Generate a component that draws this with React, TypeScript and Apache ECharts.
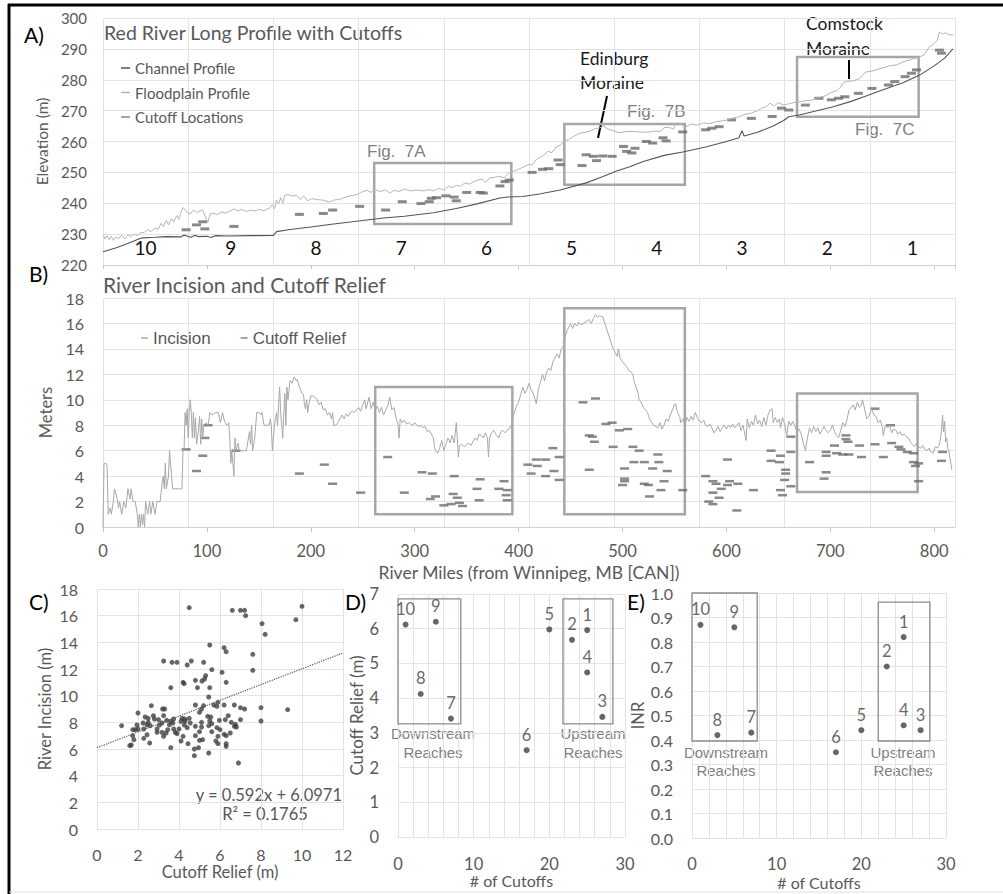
import React, { useEffect, useRef } from "react";
import * as echarts from "echarts";

// ---------- DATA ----------
const reachLabels = ["10", "9", "8", "7", "6", "5", "4", "3", "2", "1"];

// Panel A: [river mile, elevation m]
const channelProfile: [number, number][] = [
  [0, 224.3], [5, 224.8], [12, 225.5], [20, 226.5], [28, 227.5], [35, 228.5], [38, 228.8], [50, 229], [60, 229.2],
  [75, 229.1], [78, 229.7], [82, 229.2], [85, 229.0], [88, 229.6], [92, 229.2], [100, 229.3], [104, 228.9], [108, 229.5],
  [120, 229.4], [140, 229.5], [164, 229.6], [167, 230.8], [180, 231.5], [200, 232.3], [220, 233.2], [240, 234],
  [254, 234.6], [270, 235.2], [290, 235.8], [318, 236.9], [340, 238.3], [360, 239.8], [382, 241.7], [390, 242],
  [404, 242.2], [420, 243], [440, 244.3], [465, 246.6], [480, 248.5], [495, 250.5], [507, 251.8], [520, 253.5],
  [540, 255.5], [558, 256.6], [580, 258.2], [600, 260], [612, 261.2], [615, 263.5], [617, 261.8], [630, 263],
  [645, 265], [655, 266.8], [660, 268], [670, 268.6], [685, 269.8], [702, 271.2], [720, 273], [735, 274.8],
  [750, 276.7], [770, 279], [786, 281.5], [800, 284.5], [810, 287], [818, 290]
];

const floodplainProfile: [number, number][] = [
  [0, 229.8], [2, 228.5], [4, 229.5], [6, 228.2], [8, 229.3], [10, 228.0], [12, 229.0], [15, 228.6], [18, 229.6],
  [21, 228.4], [24, 229.8], [27, 229.2], [30, 230], [33, 229.5], [36, 230.4], [40, 230.6], [43, 231.5], [46, 230.8],
  [50, 232], [53, 231.5], [56, 233.5], [58, 232.4], [61, 234.5], [63, 233], [66, 235], [68, 234], [71, 236],
  [73, 234.8], [75, 237], [77, 238.6], [79, 238], [81, 237], [84, 236.5], [87, 237.8], [90, 237], [93, 237.4],
  [96, 237.8], [99, 235.2], [101, 233.8], [103, 236.5], [106, 236.8], [110, 236.3], [114, 237.2], [118, 236.8],
  [122, 237.5], [126, 238.2], [130, 237.5], [134, 238], [138, 237.3], [142, 237.8], [146, 237.5], [150, 238],
  [155, 237.6], [160, 238.4], [163, 239.5], [165, 238.2], [167, 241], [169, 239.8], [171, 241.8], [173, 240],
  [175, 242.6], [178, 242.8], [182, 242.3], [186, 242.6], [190, 241.2], [193, 242.4], [197, 240.8], [201, 241.5],
  [206, 241.2], [212, 241], [218, 240.4], [222, 241], [228, 241.3], [234, 242], [240, 242.5], [246, 243],
  [250, 243.8], [254, 244.2], [258, 243.5], [262, 244.5], [266, 243.8], [272, 244.3], [276, 243.3], [280, 244.2],
  [285, 243.8], [290, 244.6], [296, 244.0], [302, 244.3], [308, 244.0], [314, 244.4], [318, 244.0], [323, 244.8],
  [328, 244.3], [333, 245.6], [336, 245], [340, 245.8], [344, 245.5], [348, 246.5], [353, 246.2], [358, 247.2],
  [362, 247.6], [365, 247.8], [368, 246.6], [372, 248.2], [377, 248.4], [382, 248.7], [386, 248.2], [390, 249.7],
  [395, 250.4], [400, 251], [405, 251.8], [410, 252.6], [413, 252.4], [417, 254.2], [420, 254.8], [424, 255.5],
  [428, 256.8], [432, 256.4], [436, 258.2], [440, 258.8], [444, 260.2], [448, 260.6], [452, 261.5], [456, 262.2],
  [460, 262.8], [465, 263], [470, 263.6], [474, 264.2], [478, 264.4], [482, 265], [485, 264.2], [490, 263.6],
  [497, 262.8], [503, 263.2], [510, 263.3], [518, 263], [526, 263.1], [532, 263.4], [536, 263.2], [540, 264.5],
  [545, 264.6], [549, 264], [552, 266], [556, 265.8], [560, 264.6], [566, 265.6], [572, 265.3], [578, 266],
  [584, 265.8], [590, 266.4], [596, 266.7], [602, 267], [606, 267.6], [612, 268], [618, 268.8], [624, 269.2],
  [630, 270], [634, 270.8], [638, 271.2], [642, 272.4], [646, 271.5], [650, 272.6], [655, 271.8], [660, 272.2],
  [665, 272.6], [670, 272.8], [676, 273.2], [682, 273.4], [688, 274.2], [694, 274.6], [700, 275.8], [706, 276.4],
  [710, 277.6], [712, 278.9], [716, 279.5], [722, 279.6], [728, 280.4], [734, 282.5], [740, 282.8], [746, 283.4],
  [752, 284], [758, 284.6], [764, 284.8], [770, 285.8], [776, 286.4], [782, 287], [786, 287.4], [790, 288],
  [795, 290.5], [800, 291.8], [803, 292.8], [805, 295.5], [808, 294.8], [811, 295.2], [814, 294.6], [818, 294.5]
];

const cutoffLocations: [number, number][] = [
  [80, 231.4], [90, 233], [96, 234], [98, 231.7], [126, 232.5], [189, 236.4], [212, 236.7], [221, 237.8],
  [247, 239], [272, 237.8], [288, 240.5], [306, 239.9], [314, 240.5], [316, 241.6], [321, 241.8], [330, 242.4],
  [338, 242.0], [340, 240.8], [350, 243.5], [363, 243.5], [366, 243.3], [382, 245.6], [387, 247], [391, 247.5],
  [413, 250], [423, 251], [429, 251.2], [438, 254], [440, 252.5], [461, 252.2], [465, 255.7], [472, 255.2],
  [475, 253.8], [481, 255.3], [490, 255.2], [501, 258.4], [504, 256.8], [509, 256.3], [512, 257.8], [523, 260],
  [529, 259.5], [539, 261.2], [542, 260.2], [558, 263.1], [580, 263.8], [586, 264.3], [593, 264.8], [605, 267],
  [624, 267.5], [644, 268.1], [653, 270.8], [660, 270.2], [676, 271.8], [689, 274], [701, 273.5], [708, 274],
  [714, 274.5], [727, 275.6], [740, 277.2], [756, 278.3], [762, 279.4], [772, 281], [778, 282.1], [783, 283.2],
  [805, 289.6], [807, 288.6]
];

const figBoxesA: [number, number, number, number][] = [
  [261, 233.3, 393, 253], [444, 246, 560, 265.7], [668, 268, 785, 287.4]
];

// Panel B: [river mile, meters]
const incision: [number, number][] = [
  [0, 0], [1, 5], [3, 5], [4, 4.8], [5, 1], [7, 1.5], [8, 1], [10, 2], [11, 3], [13, 2.5], [15, 1.5], [16, 2],
  [18, 1], [20, 2], [22, 1.5], [24, 3], [26, 2.2], [27, 3], [29, 2], [31, 2], [33, 1], [34, 0], [35, 1], [36, 0],
  [37, 1], [38, 0.2], [39, 1], [40, 0], [41, 2], [43, 1], [45, 2], [46, 1], [48, 2], [50, 1], [52, 2], [55, 2],
  [57, 3.5], [58, 4], [59, 3], [60, 5], [61, 3], [63, 4], [64, 6], [65, 5], [66, 4], [67, 3], [70, 3], [74, 3],
  [76, 3], [77, 6], [78, 6], [79, 9], [80, 8], [81, 9.3], [82, 7], [83, 9], [84, 10], [85, 9], [86, 7], [87, 9],
  [88, 7], [89, 8.6], [90, 6.5], [91, 7], [93, 8.7], [94, 6.5], [95, 8.5], [96, 7], [97, 8], [99, 8.2], [101, 8],
  [103, 9], [105, 8.8], [108, 9], [111, 9], [113, 8.2], [115, 9], [117, 8.3], [119, 8], [121, 8.2], [122, 7],
  [123, 5], [124, 6], [125, 5], [126, 4], [127, 7], [128, 6], [130, 6.6], [131, 6], [135, 6], [138, 6], [140, 7],
  [141, 7.5], [142, 6.5], [143, 8], [144, 6], [146, 7], [148, 9], [150, 9], [152, 8.8], [153, 9], [155, 8],
  [157, 8], [160, 8], [161, 8.5], [162, 8], [163, 6], [165, 8], [167, 9], [168, 8], [170, 11], [171, 9], [172, 8],
  [173, 7], [174, 9], [175, 10.5], [176, 8], [177, 11], [178, 10], [180, 11.5], [182, 11.3], [184, 11.8],
  [186, 11.5], [187, 11.6], [189, 11], [191, 10.6], [193, 10.4], [194, 9.5], [195, 9.3], [196, 10], [197, 9],
  [198, 9.6], [200, 10.3], [202, 10.3], [204, 10.2], [206, 10], [208, 9.6], [210, 9.8], [212, 9.2], [214, 9.3],
  [216, 8.8], [218, 9], [220, 8.5], [221, 9], [222, 8], [224, 8], [226, 8.2], [228, 8.5], [230, 8.8], [232, 8.5],
  [234, 8.9], [236, 8.7], [238, 9], [240, 9.1], [242, 9], [244, 9.2], [246, 9.4], [248, 9.1], [250, 9.6],
  [252, 10], [253, 9.3], [254, 9.5], [256, 10.2], [258, 9.3], [260, 9.8], [262, 9.2], [264, 9.5], [266, 9],
  [268, 9.4], [270, 8.8], [272, 9.2], [274, 9.5], [276, 10.2], [278, 9.2], [280, 9.4], [282, 8.6], [284, 8],
  [285, 7], [286, 8.5], [288, 8.2], [290, 8.4], [292, 8.1], [294, 8.2], [296, 8.1], [298, 8], [300, 8.2],
  [302, 8], [304, 7.9], [306, 8], [308, 7.8], [310, 7.9], [312, 7.5], [314, 7.6], [316, 7.3], [318, 7],
  [319, 6.3], [320, 6], [322, 5.8], [324, 6.2], [326, 6.8], [328, 6], [330, 6.5], [332, 7], [334, 6.6],
  [336, 7.2], [338, 6.6], [340, 8.2], [341, 7], [342, 5.5], [343, 6.4], [345, 6.5], [348, 6.3], [350, 6.5],
  [352, 6.6], [354, 6.4], [356, 6.7], [358, 7], [360, 6.8], [362, 7.3], [364, 7.2], [366, 7], [368, 7.4],
  [370, 7], [371, 5.5], [372, 7], [374, 7.4], [376, 7.6], [378, 7.3], [381, 7], [383, 7.5], [385, 7.6],
  [387, 7.4], [389, 7.6], [391, 7.7], [393, 8], [395, 8.8], [396, 9], [398, 9.5], [400, 9.8], [402, 10.4],
  [404, 11], [406, 10.5], [408, 10.8], [410, 11.3], [412, 10.8], [414, 10.5], [416, 10], [417, 9.7], [419, 10.8],
  [421, 11.4], [423, 12], [425, 11.5], [427, 12.2], [429, 12.5], [431, 12.3], [433, 13], [435, 13.3], [437, 13.6],
  [439, 13.3], [441, 14], [443, 14.2], [445, 15], [447, 15.5], [449, 15.8], [450, 16], [452, 15.6], [454, 16],
  [456, 15.8], [458, 16.1], [460, 15.9], [462, 16], [464, 16.1], [466, 16.2], [468, 16.3], [470, 16],
  [472, 16.4], [474, 16.7], [476, 16.5], [478, 16.6], [481, 16.5], [483, 16], [485, 15.5], [487, 15],
  [489, 14.5], [491, 14], [493, 13.7], [495, 13.4], [496, 14], [498, 13.2], [500, 13], [502, 12.8], [504, 12.6],
  [506, 12.3], [508, 12.2], [510, 12], [511, 11.5], [513, 11], [515, 10.5], [516, 10], [518, 9.8], [520, 9.4],
  [522, 9.2], [524, 9], [526, 8.5], [528, 8.2], [530, 8], [532, 7.9], [534, 7.8], [536, 8.2], [538, 7.7],
  [540, 8], [542, 8.5], [544, 8.3], [546, 8.8], [548, 9.2], [550, 9.6], [551, 9.7], [553, 9], [555, 8.7],
  [556, 8.2], [558, 8.5], [560, 8], [562, 8.6], [564, 8.3], [566, 8.7], [568, 8.4], [570, 9], [572, 8.6],
  [574, 8.3], [576, 8.2], [578, 8.4], [580, 8], [582, 7.9], [584, 8.1], [586, 7.8], [588, 7.4], [590, 7.6],
  [592, 7.9], [594, 7.5], [596, 7.8], [598, 8], [600, 7.7], [602, 8], [604, 7.8], [606, 8.1], [608, 7.8],
  [610, 8], [612, 8.2], [614, 7.6], [616, 8], [618, 7.2], [619, 6.8], [620, 8.5], [622, 7.8], [624, 8.3],
  [626, 8], [628, 8.8], [630, 8.1], [632, 8.4], [634, 7.9], [636, 8.6], [638, 8], [640, 8.8], [642, 9.2],
  [644, 9.3], [645, 8.2], [647, 8.6], [649, 8.2], [651, 8.5], [652, 7.8], [654, 8.6], [656, 8.1], [658, 7.2],
  [660, 8.3], [662, 8], [664, 8.3], [666, 7.9], [668, 7.5], [670, 7.7], [672, 7.3], [674, 6.6], [676, 6],
  [678, 7], [680, 7.8], [682, 7.4], [684, 7.9], [686, 7.5], [688, 7.8], [690, 7.3], [692, 7.6], [694, 7.9],
  [696, 7.6], [698, 7.4], [700, 7.6], [702, 8], [704, 7.5], [706, 7.2], [708, 7], [710, 7.6], [712, 8.2],
  [714, 7.9], [716, 8.4], [718, 9.2], [720, 9.4], [722, 9.6], [724, 9.2], [726, 9.8], [728, 9.4], [730, 9.6],
  [731, 10], [733, 9.3], [735, 8.5], [737, 8.7], [740, 9.3], [742, 8.8], [744, 8.7], [746, 8.2], [748, 8.4],
  [750, 7.9], [751, 7.2], [753, 8], [755, 7.8], [757, 8], [759, 7.4], [761, 7.7], [763, 7.6], [765, 7.3],
  [767, 7.5], [769, 7.2], [771, 7.3], [773, 7.1], [775, 7], [777, 6.7], [779, 6.5], [781, 6.3], [783, 6.6],
  [785, 6.3], [787, 6.2], [789, 6.4], [791, 6.1], [793, 6], [795, 6.2], [797, 5.9], [799, 5.8], [801, 6.3],
  [803, 6.2], [805, 6.5], [807, 7.5], [808, 8.8], [809, 7.5], [810, 8.3], [811, 6.7], [812, 7], [813, 6.2],
  [814, 6], [815, 5.5], [817, 4.5]
];

const cutoffRelief: [number, number][] = [
  [80, 6.1], [90, 4.4], [96, 5.6], [98, 7.0], [101, 8.0], [128, 6.0], [189, 4.2], [213, 4.9], [221, 3.4],
  [248, 2.7], [274, 5.5], [290, 2.7], [307, 4.3], [317, 4.2], [315, 2.2], [320, 2.4], [328, 1.7], [335, 1.8],
  [337, 2.6], [338, 4.0], [341, 2.3], [343, 1.9], [346, 1.65], [362, 2.1], [360, 3.0], [363, 3.75], [381, 3.0],
  [386, 3.6], [389, 2.9], [388, 2.5], [389, 2.1], [409, 4.9], [417, 5.3], [426, 5.3], [412, 4.2], [418, 4.8],
  [433, 6.2], [434, 4.4], [426, 4.0], [439, 5.5], [439, 3.7], [462, 9.8], [474, 10.1], [484, 8.1], [490, 8.2],
  [468, 7.2], [471, 7.1], [473, 6.7], [491, 6.3], [468, 4.5], [497, 7.6], [505, 7.7], [510, 6.3], [516, 6.0],
  [511, 5.1], [521, 5.1], [534, 5.7], [535, 5.1], [529, 4.6], [543, 4.4], [502, 4.6], [502, 3.8], [502, 3.6],
  [500, 3.3], [521, 3.4], [525, 3.3], [540, 3.6], [537, 2.9], [526, 2.4], [558, 2.9], [580, 4.0], [587, 3.6],
  [590, 3.4], [601, 5.3], [603, 3.6], [601, 3.3], [595, 3.0], [587, 2.7], [593, 2.3], [583, 2.0], [587, 1.8],
  [611, 3.4], [610, 1.3], [626, 2.9], [643, 6.0], [652, 5.6], [662, 5.9], [662, 7.1], [643, 5.2], [651, 5.1],
  [657, 4.5], [657, 4.2], [656, 3.7], [652, 2.9], [654, 2.5], [662, 3.2], [680, 5.1], [696, 5.9], [696, 5.6],
  [704, 6.4], [706, 5.8], [712, 5.7], [715, 7.2], [715, 6.9], [717, 6.7], [718, 5.7], [728, 6.4], [730, 5.5],
  [743, 9.3], [743, 6.5], [751, 5.5], [758, 8.0], [759, 6.6], [766, 6.3], [768, 6.1], [774, 5.9], [780, 5.8],
  [780, 5.1], [782, 4.8], [785, 5.0], [785, 3.6], [696, 4.3], [694, 3.8], [808, 5.9], [807, 5.2]
];

const figBoxesB: [number, number, number, number][] = [
  [262, 1.0, 394, 11.0], [444, 1.0, 560, 17.2], [668, 2.75, 784, 10.5]
];

// Panel C: [cutoff relief m, river incision m]
const reliefVsIncision: [number, number][] = [
  [4.5, 16.6], [6.6, 16.4], [7.0, 16.4], [7.2, 16.4], [7.25, 16.0], [10.0, 16.7], [9.7, 15.7], [8.05, 15.4],
  [8.2, 14.6], [5.5, 13.8], [6.2, 13.6], [6.3, 13.3], [7.6, 13.1], [7.6, 11.9], [3.25, 12.6], [3.66, 12.5],
  [3.9, 12.5], [4.4, 12.3], [4.6, 12.6], [5.2, 12.5], [5.6, 11.95], [6.1, 11.75], [5.3, 11.5], [4.8, 11.15],
  [5.12, 11.1], [5.25, 11.25], [4.2, 11.0], [4.25, 10.9], [6.3, 11.0], [4.9, 10.6], [5.5, 10.6], [3.6, 10.6],
  [5.45, 9.9], [5.9, 9.5], [5.7, 9.3], [6.2, 9.3], [6.7, 9.3], [5.85, 9.2], [2.65, 9.25], [3.2, 9.0], [3.3, 9.0],
  [4.8, 9.3], [5.2, 9.25], [5.1, 9.0], [5.0, 8.75], [5.4, 8.45], [5.55, 8.4], [7.0, 9.1], [7.2, 9.0], [8.0, 9.1],
  [9.3, 8.95], [8.0, 8.1], [2.0, 8.7], [2.35, 8.4], [2.5, 8.3], [2.75, 8.5], [2.8, 8.25], [3.0, 8.2], [3.25, 8.5],
  [3.4, 8.15], [3.74, 8.25], [3.7, 7.95], [4.15, 8.3], [4.3, 8.1], [4.5, 8.3], [4.55, 7.95], [5.1, 8.0],
  [5.5, 8.1], [5.6, 7.9], [5.97, 8.15], [6.26, 8.2], [6.4, 8.5], [6.55, 8.0], [6.7, 7.7], [6.75, 7.85],
  [6.8, 7.65], [7.0, 8.2], [5.1, 7.65], [5.45, 7.75], [5.85, 7.6], [6.0, 7.45], [5.9, 6.95], [6.2, 7.1],
  [6.3, 7.0], [5.8, 6.6], [5.9, 6.4], [6.3, 6.4], [6.5, 7.2], [5.6, 7.3], [5.0, 7.3], [5.15, 6.7], [5.0, 6.65],
  [4.8, 7.0], [4.8, 7.7], [6.3, 6.2], [5.45, 5.7], [4.95, 6.1], [4.75, 6.0], [4.75, 5.5], [6.9, 4.95],
  [3.6, 6.1], [4.44, 6.4], [4.1, 6.6], [4.2, 6.95], [3.9, 7.15], [3.74, 7.5], [3.45, 7.45], [3.37, 7.2],
  [3.17, 7.25], [2.93, 7.25], [2.93, 7.5], [3.04, 7.8], [3.17, 7.95], [2.6, 7.75], [2.44, 7.8], [2.5, 8.0],
  [2.25, 7.95], [2.28, 7.5], [2.44, 7.07], [2.28, 6.8], [2.57, 6.45], [1.95, 7.8], [1.87, 7.45], [1.75, 7.45],
  [2.0, 7.5], [1.74, 7.0], [1.8, 6.7], [1.67, 6.3], [1.6, 6.25], [1.2, 7.75], [4.26, 7.8], [4.4, 7.6],
  [4.0, 7.5], [3.82, 7.25], [3.53, 7.82], [3.6, 8.07], [3.25, 6.95], [4.1, 8.07], [4.28, 8.25]
];
const trendSlope = 0.592;
const trendIntercept = 6.0971;
const trendR2 = 0.1765;

// Panels D & E: per reach
const reachIds = ["10", "9", "8", "7", "6", "5", "2", "1", "4", "3"];
const numCutoffs = [1, 5, 3, 7, 17, 20, 23, 25, 25, 27];
const reachRelief = [6.12, 6.2, 4.12, 3.41, 2.5, 5.98, 5.68, 5.96, 4.74, 3.46];
const reachINR = [0.87, 0.86, 0.42, 0.43, 0.35, 0.44, 0.70, 0.82, 0.46, 0.44];
const reliefBoxes: [number, number, number, number][] = [[-0.25, 3.26, 8.3, 6.86], [21.8, 3.26, 28.4, 6.86]];
const inrBoxes: [number, number, number, number][] = [[0, 0.396, 7.7, 1.0], [22.0, 0.396, 28.1, 0.963]];

// ---------- STYLE ----------
const LBL = "#595959";
const GRID = "#e3e3e3";
const CAL = "Lato";
const ARL = "Liberation Sans";

const boxArea = (boxes: [number, number, number, number][], color: string, width: number) => ({
  silent: true,
  itemStyle: { color: "rgba(0,0,0,0)", borderColor: color, borderWidth: width },
  data: boxes.map(([x0, y0, x1, y1]) => [{ coord: [x0, y0] }, { coord: [x1, y1] }])
});

const txt = (text: string, x: number, y: number, size: number, fill: string, family: string, align = "left") => ({
  type: "text",
  x,
  y,
  silent: true,
  style: { text, fontSize: size, fontFamily: family, fill, align, verticalAlign: "middle" }
});

const line = (x1: number, y1: number, x2: number, y2: number, stroke: string, w: number) => ({
  type: "line",
  silent: true,
  shape: { x1, y1, x2, y2 },
  style: { stroke, lineWidth: w }
});

const yAx = (grid: number, min: number, max: number, interval: number, name: string, gap: number, size: number, margin: number, fmt?: (v: number) => string) => ({
  type: "value",
  gridIndex: grid,
  min,
  max,
  interval,
  name,
  nameLocation: "middle",
  nameGap: gap,
  nameTextStyle: { fontSize: size + 0.5, color: LBL, fontFamily: CAL },
  axisLine: { show: false },
  axisTick: { show: false },
  axisLabel: { fontSize: size, color: LBL, fontFamily: CAL, margin, formatter: fmt },
  splitLine: { show: true, lineStyle: { color: GRID, width: 1 } }
});

const smallX = (grid: number, name: string, gap: number, margin: number) => ({
  type: "value",
  gridIndex: grid,
  min: 0,
  max: 30,
  interval: 2,
  position: "bottom",
  name,
  nameLocation: "middle",
  nameGap: gap,
  nameTextStyle: { fontSize: 16, color: LBL, fontFamily: CAL },
  axisLine: { show: true, lineStyle: { color: GRID } },
  axisTick: { show: false },
  axisLabel: {
    fontSize: 16.5,
    color: LBL,
    fontFamily: CAL,
    margin,
    formatter: (v: number) => (v % 10 === 0 ? String(v) : "")
  },
  splitLine: { show: true, lineStyle: { color: GRID } }
});

const option: any = {
  animation: false,
  backgroundColor: "#ffffff",
  textStyle: { fontFamily: CAL },
  grid: [
    { left: 103, top: 18, width: 852, height: 247, outerBoundsMode: "none" },
    { left: 103, top: 298, width: 852, height: 229, outerBoundsMode: "none" },
    { left: 97, top: 589, width: 246, height: 240, outerBoundsMode: "none" },
    { left: 398, top: 594, width: 227, height: 243, outerBoundsMode: "none" },
    { left: 692, top: 593, width: 254, height: 245, outerBoundsMode: "none" }
  ],
  legend: [
    {
      data: ["Channel Profile", "Floodplain Profile", "Cutoff Locations"],
      orient: "vertical",
      left: 116,
      top: 54,
      icon: "rect",
      itemWidth: 9,
      itemHeight: 1.5,
      itemGap: 6.5,
      selectedMode: false,
      textStyle: { fontSize: 15, color: LBL, fontFamily: CAL, lineHeight: 18 }
    },
    {
      data: ["Incision", "Cutoff Relief"],
      orient: "horizontal",
      left: 136,
      top: 324,
      icon: "rect",
      itemWidth: 7,
      itemHeight: 1.5,
      itemGap: 30,
      selectedMode: false,
      textStyle: { fontSize: 17, color: LBL, fontFamily: ARL, lineHeight: 18 }
    }
  ],
  xAxis: [
    {
      type: "value",
      gridIndex: 0,
      min: 0,
      max: 820,
      interval: 100,
      position: "bottom",
      axisLine: { show: true, lineStyle: { color: "#d0d0d0" } },
      axisTick: { show: true, length: 4, lineStyle: { color: "#c8c8c8" } },
      axisLabel: { show: false },
      splitLine: { show: false }
    },
    {
      type: "category",
      gridIndex: 0,
      data: reachLabels,
      position: "bottom",
      boundaryGap: true,
      axisLine: { show: false },
      axisTick: { show: false },
      axisLabel: { inside: true, margin: 8, fontSize: 19, color: "#111", fontFamily: CAL },
      splitLine: { show: true, lineStyle: { color: GRID } }
    },
    {
      type: "value",
      gridIndex: 1,
      min: 0,
      max: 820,
      interval: 100,
      position: "bottom",
      name: "River Miles (from Winnipeg, MB [CAN])",
      nameLocation: "middle",
      nameGap: 36,
      nameTextStyle: { fontSize: 17.5, color: LBL, fontFamily: CAL },
      axisLine: { show: true, lineStyle: { color: "#d0d0d0" } },
      axisTick: { show: true, length: 5, lineStyle: { color: "#c8c8c8" } },
      axisLabel: { fontSize: 16.5, color: LBL, fontFamily: CAL, margin: 15, showMaxLabel: false },
      splitLine: { show: false }
    },
    {
      type: "category",
      gridIndex: 1,
      data: reachLabels,
      position: "bottom",
      boundaryGap: true,
      axisLine: { show: false },
      axisTick: { show: false },
      axisLabel: { show: false },
      splitLine: { show: true, lineStyle: { color: GRID } }
    },
    {
      type: "value",
      gridIndex: 2,
      min: 0,
      max: 12,
      interval: 2,
      position: "bottom",
      name: "Cutoff Relief (m)",
      nameLocation: "middle",
      nameGap: 34,
      nameTextStyle: { fontSize: 16.5, color: LBL, fontFamily: CAL },
      axisLine: { show: true, lineStyle: { color: GRID } },
      axisTick: { show: false },
      axisLabel: { fontSize: 16, color: LBL, fontFamily: CAL, margin: 17 },
      splitLine: { show: true, lineStyle: { color: GRID } }
    },
    smallX(3, "# of Cutoffs", 29, 18),
    smallX(4, "# of Cutoffs", 36, 17)
  ],
  yAxis: [
    yAx(0, 220, 300, 10, "Elevation (m)", 49, 15, 16),
    yAx(1, 0, 18, 2, "Meters", 44, 16, 19),
    yAx(2, 0, 18, 2, "River Incision (m)", 44, 16, 19),
    yAx(3, 0, 7, 1, "Cutoff Relief (m)", 33, 16.5, 19),
    yAx(4, 0, 1, 0.1, "INR", 43, 16, 19, (v: number) => v.toFixed(1))
  ],
  series: [
    {
      name: "Channel Profile",
      type: "line",
      xAxisIndex: 0,
      yAxisIndex: 0,
      data: channelProfile,
      showSymbol: false,
      symbol: "none",
      itemStyle: { color: "#555555" },
      lineStyle: { color: "#555555", width: 1.1 }
    },
    {
      name: "Floodplain Profile",
      type: "line",
      xAxisIndex: 0,
      yAxisIndex: 0,
      data: floodplainProfile,
      showSymbol: false,
      symbol: "none",
      itemStyle: { color: "#b5b5b5" },
      lineStyle: { color: "#b5b5b5", width: 1 }
    },
    {
      name: "Cutoff Locations",
      type: "scatter",
      xAxisIndex: 0,
      yAxisIndex: 0,
      data: cutoffLocations,
      symbol: "rect",
      symbolSize: [9, 3],
      itemStyle: { color: "#6b6b6b" },
      markArea: boxArea(figBoxesA, "#a6a6a6", 2.5)
    },
    {
      name: "Incision",
      type: "line",
      xAxisIndex: 2,
      yAxisIndex: 1,
      data: incision,
      showSymbol: false,
      symbol: "none",
      itemStyle: { color: "#a8a8a8" },
      lineStyle: { color: "#a8a8a8", width: 1 }
    },
    {
      name: "Cutoff Relief",
      type: "scatter",
      xAxisIndex: 2,
      yAxisIndex: 1,
      data: cutoffRelief,
      symbol: "rect",
      symbolSize: [9, 2.5],
      itemStyle: { color: "#6b6b6b" },
      markArea: boxArea(figBoxesB, "#a6a6a6", 2.5)
    },
    {
      type: "scatter",
      xAxisIndex: 4,
      yAxisIndex: 2,
      data: reliefVsIncision,
      symbolSize: 5,
      itemStyle: { color: "#404040" }
    },
    {
      type: "line",
      xAxisIndex: 4,
      yAxisIndex: 2,
      data: [0, 12].map((x) => [x, trendIntercept + trendSlope * x]),
      showSymbol: false,
      symbol: "none",
      lineStyle: { color: "#555", width: 1.2, type: "dotted" }
    },
    {
      type: "scatter",
      xAxisIndex: 5,
      yAxisIndex: 3,
      data: numCutoffs.map((n, i) => [n, reachRelief[i], reachIds[i]]),
      symbolSize: 6,
      itemStyle: { color: "#404040" },
      label: {
        show: true,
        position: "top",
        distance: 4,
        formatter: (p: any) => p.data[2],
        fontSize: 16.5,
        color: "#404040",
        fontFamily: CAL
      },
      markArea: boxArea(reliefBoxes, "#8c8c8c", 1.3)
    },
    {
      type: "scatter",
      xAxisIndex: 6,
      yAxisIndex: 4,
      data: numCutoffs.map((n, i) => [n, reachINR[i], reachIds[i]]),
      symbolSize: 6,
      itemStyle: { color: "#404040" },
      label: {
        show: true,
        position: "top",
        distance: 4,
        formatter: (p: any) => p.data[2],
        fontSize: 16.5,
        color: "#404040",
        fontFamily: CAL
      },
      markArea: boxArea(inrBoxes, "#8c8c8c", 1.3)
    }
  ],
  graphic: [
    line(8, 5, 1003, 5, "#000", 3),
    line(9, 4, 9, 894, "#000", 3),
    line(9, 892, 1003, 892, "#e0e0e0", 1),
    txt("A)", 24, 34, 21, "#000", CAL),
    txt("B)", 29, 273, 21, "#000", CAL),
    txt("C)", 29, 601, 21, "#000", CAL),
    txt("D)", 345, 601, 21, "#000", CAL),
    txt("E)", 627, 601, 21, "#000", CAL),
    txt("Red River Long Profile with Cutoffs", 104, 32, 19.5, LBL, CAL),
    txt("River Incision and Cutoff Relief", 103, 284, 21, LBL, CAL),
    txt("Fig.  7A", 367, 151, 17, "#7f7f7f", ARL),
    txt("Fig.  7B", 627, 111, 17, "#7f7f7f", ARL),
    txt("Fig.  7C", 855, 129, 17, "#7f7f7f", ARL),
    txt("Edinburg", 580, 58, 17.5, "#1a1a1a", CAL),
    txt("Moraine", 580, 82, 17.5, "#1a1a1a", CAL),
    txt("Comstock", 806, 23, 17.5, "#1a1a1a", CAL),
    txt("Moraine", 806, 48, 17.5, "#1a1a1a", CAL),
    line(607, 96, 598, 138, "#000", 2),
    line(849, 60, 849, 79, "#000", 2),
    txt(`y = ${trendSlope}x + ${trendIntercept}`, 342, 795, 16.5, LBL, CAL, "right"),
    txt(`R² = ${trendR2}`, 265, 814, 16.5, LBL, CAL, "center"),
    txt("Downstream", 433, 733, 15, "#7f7f7f", ARL, "center"),
    txt("Reaches", 433, 752, 15, "#7f7f7f", ARL, "center"),
    txt("Upstream", 593, 733, 15, "#7f7f7f", ARL, "center"),
    txt("Reaches", 593, 752, 15, "#7f7f7f", ARL, "center"),
    txt("Downstream", 726, 752, 15, "#7f7f7f", ARL, "center"),
    txt("Reaches", 726, 770, 15, "#7f7f7f", ARL, "center"),
    txt("Upstream", 903, 752, 15, "#7f7f7f", ARL, "center"),
    txt("Reaches", 903, 770, 15, "#7f7f7f", ARL, "center")
  ]
};

export default function App() {
  const ref = useRef<HTMLDivElement>(null);
  useEffect(() => {
    const chart = echarts.init(ref.current as HTMLDivElement, null, { renderer: "svg" });
    chart.setOption(option);
    return () => chart.dispose();
  }, []);
  return (
    <div
      ref={ref}
      style={{ position: "fixed", left: 0, top: 0, width: 1003, height: 894, background: "#fff" }}
    />
  );
}
